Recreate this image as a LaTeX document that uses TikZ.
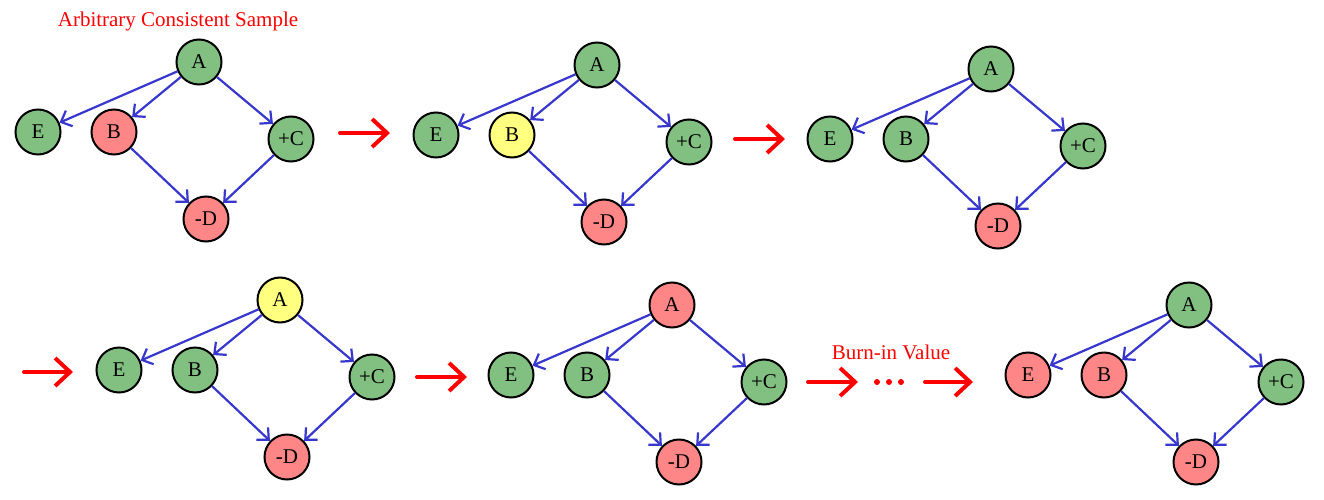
\documentclass[tikz,border=0pt]{standalone}
\usepackage{fontspec}
\setmainfont{Liberation Serif}
\usetikzlibrary{arrows.meta}
\definecolor{ngreen}{RGB}{130,192,130}
\definecolor{nred}{RGB}{255,134,134}
\definecolor{nyellow}{RGB}{255,255,128}
\definecolor{eblue}{RGB}{55,55,205}
\tikzset{
  bnode/.style={circle, draw=black, line width=2pt, minimum size=45pt, inner sep=0pt, font=\fontsize{21}{21}\selectfont},
  edge/.style={draw=eblue, line width=2.2pt, -{Straight Barb[length=9pt,width=17pt]}},
  bigarrow/.style={draw=red, line width=4pt, line cap=round, -{Straight Barb[length=15pt,width=28pt]}},
  lbl/.style={text=red, font=\fontsize{21}{21}\selectfont}
}
\newcommand\bngraph[8]{%
  \begin{scope}[shift={(#2,#3)}]
    \node[bnode, fill=#4] (#1A) at (0,0) {A};
    \node[bnode, fill=#5] (#1E) at (-161,70) {E};
    \node[bnode, fill=#6] (#1B) at (-85,70) {B};
    \node[bnode, fill=#7] (#1C) at (92,77) {+C};
    \node[bnode, fill=#8] (#1D) at (7,157) {-D};
    \draw[edge] (#1A) -- (#1E);
    \draw[edge] (#1A) -- (#1B);
    \draw[edge] (#1A) -- (#1C);
    \draw[edge] (#1B) -- (#1D);
    \draw[edge] (#1C) -- (#1D);
  \end{scope}}
\begin{document}
\begin{tikzpicture}[x=1pt,y=-1pt]
\useasboundingbox (0,0) rectangle (1324,500);
\node[lbl] (title) at (178,21) {Arbitrary Consistent Sample};
\bngraph{a}{199}{62}{ngreen}{ngreen}{nred}{ngreen}{nred}
\bngraph{b}{597}{65}{ngreen}{ngreen}{nyellow}{ngreen}{nred}
\bngraph{c}{991}{69}{ngreen}{ngreen}{ngreen}{ngreen}{nred}
\bngraph{d}{280}{300}{nyellow}{ngreen}{ngreen}{ngreen}{nred}
\bngraph{e}{672}{305}{nred}{ngreen}{ngreen}{ngreen}{nred}
\bngraph{f}{1189}{305}{ngreen}{nred}{nred}{ngreen}{nred}
\coordinate (r1s) at (340,133); \coordinate (r1e) at (390,133);
\coordinate (r2s) at (735,139); \coordinate (r2e) at (785,139);
\coordinate (r3s) at (24,372);  \coordinate (r3e) at (73,372);
\coordinate (r4s) at (417,377); \coordinate (r4e) at (467,377);
\coordinate (r5s) at (808,382); \coordinate (r5e) at (858,382);
\coordinate (r6s) at (925,382); \coordinate (r6e) at (973,382);
\draw[bigarrow] (r1s) -- (r1e);
\draw[bigarrow] (r2s) -- (r2e);
\draw[bigarrow] (r3s) -- (r3e);
\draw[bigarrow] (r4s) -- (r4e);
\draw[bigarrow] (r5s) -- (r5e);
\draw[bigarrow] (r6s) -- (r6e);
\node[lbl] (burn) at (891,352) {Burn-in Value};
\fill[red] (877,382) circle (3) (889,382) circle (3) (901,382) circle (3);
\end{tikzpicture}
\end{document}
